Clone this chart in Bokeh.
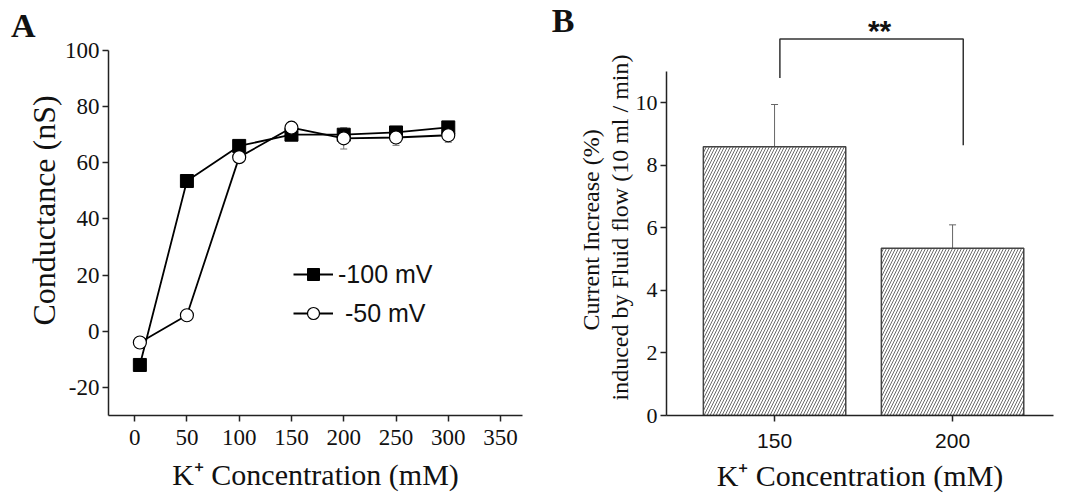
from bokeh.plotting import figure
from bokeh.models import (ColumnDataSource, FixedTicker, Legend, LegendItem, Title,
                          LinearAxis, Whisker, TeeHead)
from bokeh.layouts import row
from bokeh.embed import file_html
from bokeh.resources import INLINE
from bokeh.core.properties import value

# ---------------- data ----------------
conc = [5, 50, 100, 150, 200, 250, 300]
g_100mV = [-12, 53.5, 66, 70, 70, 70.8, 72.6]
sem_100mV = [1.0, 1.2, 1.5, 1.5, 2.0, 1.5, 1.5]
g_50mV = [-4, 5.7, 62, 72.5, 68.7, 69, 69.8]
sem_50mV = [1.5, 1.5, 1.5, 2.0, 3.8, 2.8, 2.5]
a_xticks = [0, 50, 100, 150, 200, 250, 300, 350]
a_yticks = [-20, 0, 20, 40, 60, 80, 100]

b_cats = ["150", "200"]
b_means = [8.6, 5.35]
b_sems = [1.35, 0.75]
b_yticks = [0, 2, 4, 6, 8, 10]
sig_text = "**"
sig_level = 12.05
sig_leg_ends = [10.8, 8.65]

SERIF = "Liberation Serif"
SANS = "Liberation Sans"
INK = "#111111"
XLABEL = "K\u207a Concentration (mM)"


def style_axes(p):
    for ax in (p.xaxis[0], p.yaxis[0]):
        ax.axis_line_width = 1.5
        ax.axis_line_color = "#222222"
        ax.major_tick_line_width = 1.5
        ax.major_tick_line_color = "#222222"
        ax.major_tick_out = 6
        ax.major_tick_in = 0
        ax.minor_tick_line_color = None
        ax.major_label_text_color = INK
    p.xgrid.grid_line_color = None
    p.ygrid.grid_line_color = None
    p.outline_line_color = None


def letter_axis(tick, letter, standoff):
    return LinearAxis(ticker=FixedTicker(ticks=[tick]),
                      major_label_overrides={tick: letter},
                      axis_line_color=None, major_tick_line_color=None,
                      minor_tick_line_color=None, major_tick_out=0, major_tick_in=0,
                      major_label_standoff=standoff,
                      major_label_text_font=SERIF, major_label_text_font_style="bold",
                      major_label_text_font_size="34px", major_label_text_color=INK)


def ylabel_title(text, size, offset, standoff):
    return Title(text=text, align="left", offset=offset, standoff=standoff,
                 text_font=SERIF, text_font_style="normal",
                 text_font_size=size, text_color=INK)


# ---------------- Panel A ----------------
pA = figure(width=540, height=496, output_backend="svg", toolbar_location=None,
            x_range=(-25, 371), y_range=(-30, 112.8),
            min_border_left=108, min_border_right=18, min_border_top=14,
            min_border_bottom=81)
style_axes(pA)
pA.xaxis.ticker = FixedTicker(ticks=a_xticks)
pA.yaxis.ticker = FixedTicker(ticks=a_yticks)
pA.yaxis.bounds = (-30, 100)
pA.yaxis.major_label_overrides = {t: str(t) for t in a_yticks if t < 0}
pA.xaxis.major_label_text_font = SERIF
pA.yaxis.major_label_text_font = SERIF
pA.xaxis.major_label_text_font_size = "23px"
pA.yaxis.major_label_text_font_size = "23px"
pA.xaxis.major_label_standoff = 8
pA.yaxis.major_label_standoff = 3
pA.xaxis.axis_label = XLABEL
pA.xaxis.axis_label_text_font = SERIF
pA.xaxis.axis_label_text_font_style = "normal"
pA.xaxis.axis_label_text_font_size = "30px"
pA.xaxis.axis_label_text_color = INK
pA.xaxis.axis_label_standoff = 10

srcA = ColumnDataSource(dict(
    x=conc, g100=g_100mV, g50=g_50mV,
    g100_lo=[v - e for v, e in zip(g_100mV, sem_100mV)],
    g100_hi=[v + e for v, e in zip(g_100mV, sem_100mV)],
    g50_lo=[v - e for v, e in zip(g_50mV, sem_50mV)],
    g50_hi=[v + e for v, e in zip(g_50mV, sem_50mV)],
))

l100 = pA.line("x", "g100", source=srcA, line_color="black", line_width=1.8)
l50 = pA.line("x", "g50", source=srcA, line_color="black", line_width=1.8)
s100 = pA.scatter("x", "g100", source=srcA, marker="square", size=13,
                  fill_color="black", line_color="black")
s50 = pA.scatter("x", "g50", source=srcA, marker="circle", size=13,
                 fill_color="white", line_color="black", line_width=1.2)

for lo, hi in (("g100_lo", "g100_hi"), ("g50_lo", "g50_hi")):
    w = Whisker(base="x", lower=lo, upper=hi, source=srcA, dimension="height",
                line_color="#777777", line_width=1,
                upper_head=TeeHead(size=7, line_color="#777777", line_width=1),
                lower_head=TeeHead(size=7, line_color="#777777", line_width=1))
    pA.add_layout(w)

legA = Legend(items=[LegendItem(label="-100 mV", renderers=[l100, s100]),
                     LegendItem(label=" -50 mV", renderers=[l50, s50])],
              location=(185, 87), padding=0, margin=0, spacing=9,
              glyph_width=40, glyph_height=30, label_height=30,
              label_standoff=5, border_line_color=None,
              background_fill_alpha=0,
              label_text_font=SANS, label_text_font_size="25px",
              label_text_color=INK)
pA.add_layout(legA)

pA.add_layout(ylabel_title("Conductance (nS)", "32px", 90, 0), "left")
pA.add_layout(letter_axis(109, "A", -12), "left")

# ---------------- Panel B ----------------
pos = list(range(len(b_cats)))
pB = figure(width=532, height=496, output_backend="svg", toolbar_location=None,
            x_range=(-0.607, 1.567), y_range=(0, 12.83),
            min_border_left=126, min_border_right=19, min_border_top=14,
            min_border_bottom=81)
style_axes(pB)
pB.xaxis.ticker = FixedTicker(ticks=pos)
pB.xaxis.major_label_overrides = {p: c for p, c in zip(pos, b_cats)}
pB.yaxis.ticker = FixedTicker(ticks=b_yticks)
pB.yaxis.bounds = (0, 11)
pB.xaxis.major_label_text_font = SANS
pB.xaxis.major_label_text_font_size = "21px"
pB.yaxis.major_label_text_font = SERIF
pB.yaxis.major_label_text_font_size = "22px"
pB.xaxis.major_label_standoff = 12
pB.yaxis.major_label_standoff = 3
pB.xaxis.axis_label = XLABEL
pB.xaxis.axis_label_text_font = SERIF
pB.xaxis.axis_label_text_font_style = "normal"
pB.xaxis.axis_label_text_font_size = "30px"
pB.xaxis.axis_label_text_color = INK
pB.xaxis.axis_label_standoff = 8

srcB = ColumnDataSource(dict(x=pos, top=b_means,
                             hi=[m + s for m, s in zip(b_means, b_sems)]))
pB.vbar(x="x", top="top", bottom=0, width=0.80, source=srcB,
        fill_color="white", line_color="#444444", line_width=1.5,
        hatch_pattern="/", hatch_color="#444444", hatch_scale=6,
        hatch_weight=0.8)
pB.add_layout(Whisker(base="x", lower="top", upper="hi", source=srcB,
                      dimension="height", line_color="#666666", line_width=1,
                      upper_head=TeeHead(size=7, line_color="#666666", line_width=1),
                      lower_head=None))

bx0 = pos[0] + 0.03
bx1 = pos[1] + 0.06
pB.line([bx0, bx0, bx1, bx1],
        [sig_leg_ends[0], sig_level, sig_level, sig_leg_ends[1]],
        line_color="#333333", line_width=1.5)
pB.text(x=[(bx0 + bx1) / 2], y=[sig_level], text=[sig_text], x_offset=8, y_offset=-8,
        text_align="center", text_baseline="alphabetic",
        text_font=value(SANS), text_font_style="bold", text_font_size="30px",
        text_color=INK)

pB.add_layout(ylabel_title("induced by Fluid flow (10 ml / min)", "24px", 15, 0), "left")
pB.add_layout(ylabel_title("Current Increase (%)", "24px", 85, 2), "left")
pB.add_layout(letter_axis(12.64, "B", 0), "left")

layout = row(pA, pB)
open("out.html", "w").write(file_html(layout, INLINE))
